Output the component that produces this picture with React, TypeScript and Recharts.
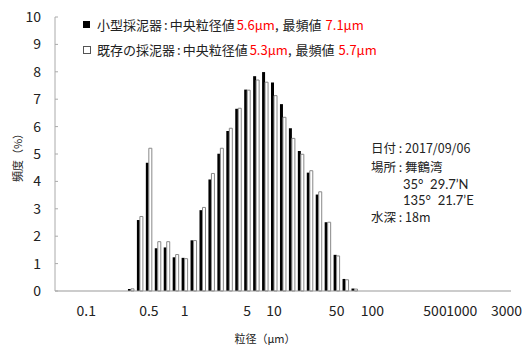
import React from 'react';
import { BarChart, Bar, XAxis, YAxis } from 'recharts';

// Particle-size bins (µm), one category per bin
const sizes: string[] = [
  '0.058', '0.067', '0.087', '0.1', '0.13', '0.15', '0.2', '0.23', '0.3', '0.39',
  '0.5', '0.59', '0.67', '0.88', '1', '1.32', '1.51', '1.97', '2.26', '2.95',
  '3.4', '5', '5.9', '7.7', '10', '11.6', '15.2', '17.4', '22.8', '26.1',
  '34.2', '50', '58.9', '67.5', '88', '100', '132', '151', '198', '227',
  '296', '339', '500', '584', '762', '1000', '1317', '1510', '1973', '2261', '3000',
];

// 小型採泥器 (%)
const smallSampler: (number | null)[] = [
  null, null, null, null, null, null, null, null, 0.07, 2.59,
  4.68, 1.56, 1.59, 1.23, 1.21, 1.85, 2.95, 4.07, 5.01, 5.84,
  6.65, 7.35, 7.84, 7.99, 7.61, 6.82, 5.94, 5.11, 4.32, 3.52,
  2.51, 1.32, 0.44, 0.09, null, null, null, null, null, null,
  null, null, null, null, null, null, null, null, null, null, null,
];

// 既存の採泥器 (%)
const existingSampler: (number | null)[] = [
  null, null, null, null, null, null, null, null, 0.08, 2.72,
  5.21, 1.8, 1.8, 1.33, 1.18, 1.84, 3.05, 4.29, 5.21, 5.94,
  6.67, 7.33, 7.7, 7.62, 7.13, 6.34, 5.57, 4.99, 4.39, 3.62,
  2.51, 1.28, 0.41, 0.07, null, null, null, null, null, null,
  null, null, null, null, null, null, null, null, null, null, null,
];

const xTickLabels: string[] = ['0.1', '0.5', '1', '5', '10', '50', '100', '500', '1000', '3000'];
const yTicks: number[] = [0, 1, 2, 3, 4, 5, 6, 7, 8, 9, 10];

const data = sizes.map((s, i) => ({
  size: s,
  small: smallSampler[i],
  existing: existingSampler[i],
}));

const FONT = '"Noto Sans CJK JP", "Noto Sans", sans-serif';
const LATIN = 'Lato, "Noto Sans", sans-serif';

const YTick = (props: any) => {
  const { x, y, payload } = props;
  return (
    <g>
      <line x1={x + 14} x2={x + 17} y1={y} y2={y} stroke="#aaa" strokeWidth={1} />
      <text x={x} y={y} dy="0.35em" textAnchor="end" fontSize={14} fill="#222" fontFamily={FONT}>
        {payload.value}
      </text>
    </g>
  );
};

const annLine = (top: number, extra?: React.CSSProperties): React.CSSProperties => ({
  position: 'absolute',
  left: 371,
  top,
  height: 18,
  lineHeight: '18px',
  fontSize: 12.5,
  color: '#222',
  whiteSpace: 'nowrap',
  ...extra,
});
const red: React.CSSProperties = { color: '#f00', marginLeft: 2 };

export default function App() {
  return (
    <div style={{ position: 'absolute', left: 0, top: 0, width: 522, height: 345, background: '#fff', fontFamily: FONT }}>
      <BarChart
        width={522}
        height={345}
        data={data}
        margin={{ top: 17, right: 11, bottom: 24, left: 0 }}
        barCategoryGap="16%"
        barGap={0}
      >
        <XAxis
          dataKey="size"
          type="category"
          ticks={xTickLabels}
          interval={0}
          tickLine={false}
          tickSize={6}
          tickMargin={9}
          axisLine={{ stroke: '#999' }}
          tick={{ fontSize: 14, fill: '#222', fontFamily: FONT }}
        />
        <YAxis
          width={55}
          domain={[0, 10]}
          ticks={yTicks}
          interval={0}
          tickLine={false}
          tickSize={6}
          tickMargin={8}
          axisLine={{ stroke: '#aaa' }}
          tick={<YTick />}
        />
        <Bar dataKey="small" fill="#000" isAnimationActive={false} />
        <Bar dataKey="existing" fill="#fff" stroke="#888" strokeWidth={1} isAnimationActive={false} />
      </BarChart>

      {/* Legend */}
      <div style={{ position: 'absolute', left: 83, top: 21, width: 7, height: 7, background: '#000' }} />
      <div style={{ position: 'absolute', left: 83, top: 46, width: 6, height: 6, background: '#fff', border: '1px solid #555' }} />
      <div style={{ position: 'absolute', left: 97, top: 15, fontSize: 13, lineHeight: '20px', color: '#222', whiteSpace: 'nowrap' }}>
        小型採泥器<span style={{ margin: '0 2px' }}>:</span>中央粒径値<span style={red}>5.6μm</span>,<span style={{ marginLeft: 4 }}>最頻値</span><span style={{ ...red, marginLeft: 4 }}>7.1μm</span>
      </div>
      <div style={{ position: 'absolute', left: 97, top: 40, fontSize: 13, lineHeight: '20px', color: '#222', whiteSpace: 'nowrap' }}>
        既存の採泥器<span style={{ margin: '0 2px' }}>:</span>中央粒径値<span style={red}>5.3μm</span>,<span style={{ marginLeft: 4 }}>最頻値</span><span style={{ ...red, marginLeft: 4 }}>5.7μm</span>
      </div>

      {/* Annotation */}
      <div style={annLine(139)}>日付 : 2017/09/06</div>
      <div style={annLine(157.5)}>場所 : 舞鶴湾</div>
      <div style={annLine(174.5, { paddingLeft: 32, fontFamily: LATIN, fontSize: 13 })}>35°&nbsp;&nbsp;29.7’N</div>
      <div style={annLine(190.5, { paddingLeft: 32, fontFamily: LATIN, fontSize: 13 })}>135°&nbsp;&nbsp;21.7’E</div>
      <div style={annLine(207.5)}>水深 : 18m</div>

      {/* Axis titles */}
      <div style={{ position: 'absolute', left: 265, top: 332, lineHeight: '13px', fontSize: 11, color: '#222', whiteSpace: 'nowrap', transform: 'translateX(-50%)' }}>
        粒径（μm）
      </div>
      <div style={{ position: 'absolute', left: 17, top: 155, lineHeight: '13px', fontSize: 11, color: '#222', whiteSpace: 'nowrap', transform: 'translate(-50%, -50%) rotate(-90deg)' }}>
        頻度（%）
      </div>
    </div>
  );
}
